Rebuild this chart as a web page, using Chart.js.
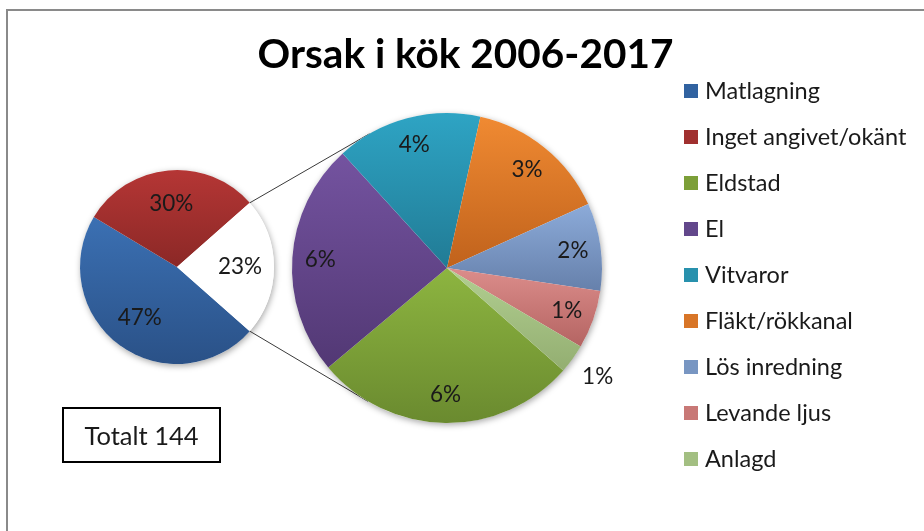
<!DOCTYPE html>
<html>
<head>
<meta charset="utf-8">
<script src="https://cdn.jsdelivr.net/npm/chart.js@4.4.1/dist/chart.umd.min.js"></script>
<style>
  html, body { margin: 0; padding: 0; background: #fff; }
  #wrap { position: relative; width: 924px; height: 531px; overflow: hidden; font-family: Lato, sans-serif; color: #1a1a1a; }
  #frame { position: absolute; left: 6px; top: 9px; right: -10px; bottom: -10px; border-left: 2px solid #8a8a8a; border-top: 2px solid #8a8a8a; }
  canvas { position: absolute; left: 0; top: 0; }
  #title { position: absolute; left: 0; width: 931px; top: 29px; line-height: 48px; text-align: center; font-weight: bold; font-size: 40.5px; color: #000; }
  #legend { position: absolute; left: 684px; top: 67px; list-style: none; margin: 0; padding: 0; font-size: 23.5px; }
  #legend li { height: 46px; line-height: 46px; white-space: nowrap; }
  #legend i { display: inline-block; width: 14px; height: 14px; margin-right: 7px; vertical-align: middle; position: relative; top: -2px; }
  #total { position: absolute; left: 62px; top: 407px; width: 155px; height: 52px; border: 2px solid #000; text-align: center; line-height: 52px; font-size: 25.5px; }
</style>
</head>
<body>
<div id="wrap">
  <div id="frame"></div>
  <canvas id="pieMain" width="924" height="531"></canvas>
  <canvas id="pieDetail" width="924" height="531"></canvas>
  <div id="title"></div>
  <ul id="legend"></ul>
  <div id="total"></div>
</div>
<script>
// share of all kitchen fires, in percent
const titleText = 'Orsak i kök 2006-2017';
const mainLabels = ['Matlagning', 'Inget angivet/okänt'];
const mainValues = [47.1, 29.9];
const otherLabel = 'Övrigt';
const detailLabels = ['Eldstad', 'El', 'Vitvaror', 'Fläkt/rökkanal', 'Lös inredning', 'Levande ljus', 'Anlagd'];
const detailValues = [6.3, 5.6, 3.5, 3.4, 2.1, 1.4, 0.7];
const totalCount = 144;

// colours: top / bottom of each slice gradient, plus a flat one for the legend
const mainTop = ['#3b70b3', '#b53635', '#ffffff'];
const mainBottom = ['#2a5187', '#8b2826', '#ffffff'];
const mainFlat = ['#3162a0', '#a0302f', '#ffffff'];
const detailTop = ['#8db540', '#7453a0', '#2ea4c4', '#f08a32', '#8cabd9', '#dc8d8b', '#b2cf91'];
const detailBottom = ['#6a8a2f', '#523874', '#217b95', '#c0621c', '#6680ab', '#b46462', '#93ae71'];
const detailFlat = ['#7c9f38', '#62478b', '#2891ad', '#d87527', '#7896c2', '#c87876', '#a3bf82'];

const otherValue = detailValues.reduce((a, b) => a + b, 0);

document.getElementById('title').textContent = titleText;
document.getElementById('total').textContent = 'Totalt ' + totalCount;

const legend = document.getElementById('legend');
mainLabels.concat(detailLabels).forEach((name, i) => {
  const li = document.createElement('li');
  const box = document.createElement('i');
  box.style.background = i < mainLabels.length ? mainFlat[i] : detailFlat[i - mainLabels.length];
  li.appendChild(box);
  li.appendChild(document.createTextNode(name));
  legend.appendChild(li);
});

// percent labels, inside the slice or just outside for thin ones
const sliceLabels = {
  id: 'sliceLabels',
  afterDatasetsDraw(chart, args, opts) {
    const ctx = chart.ctx;
    const values = chart.data.datasets[0].data;
    chart.getDatasetMeta(0).data.forEach((arc, i) => {
      const mid = (arc.startAngle + arc.endAngle) / 2;
      const thin = arc.endAngle - arc.startAngle < 0.25;
      const r = arc.outerRadius * (thin ? opts.outside : opts.inside);
      ctx.save();
      ctx.font = '22.5px Lato';
      ctx.fillStyle = '#1a1a1a';
      ctx.textAlign = 'center';
      ctx.textBaseline = 'middle';
      ctx.fillText(Math.round(values[i]) + '%', arc.x + Math.cos(mid) * r, arc.y + Math.sin(mid) * r);
      ctx.restore();
    });
  }
};

// soft drop shadow under the whole pie
const pieShadow = {
  id: 'pieShadow',
  beforeDatasetsDraw(chart) {
    const a = chart.getDatasetMeta(0).data[0];
    const ctx = chart.ctx;
    ctx.save();
    ctx.shadowColor = 'rgba(0,0,0,0.35)';
    ctx.shadowBlur = 6;
    ctx.shadowOffsetX = 1;
    ctx.shadowOffsetY = 2;
    ctx.fillStyle = '#fff';
    ctx.beginPath();
    ctx.arc(a.x, a.y, a.outerRadius, 0, Math.PI * 2);
    ctx.fill();
    ctx.restore();
  }
};

// lines from the "Övrigt" slice, tangent to the detail pie
const connectors = {
  id: 'connectors',
  beforeDatasetsDraw(chart) {
    const src = mainChart.getDatasetMeta(0).data[2];
    const dst = chart.getDatasetMeta(0).data[0];
    const ctx = chart.ctx;
    ctx.save();
    ctx.strokeStyle = '#3a3a3a';
    ctx.lineWidth = 1;
    [src.startAngle, src.endAngle].forEach((ang, k) => {
      const px = src.x + Math.cos(ang) * src.outerRadius;
      const py = src.y + Math.sin(ang) * src.outerRadius;
      const d = Math.hypot(px - dst.x, py - dst.y);
      const base = Math.atan2(py - dst.y, px - dst.x);
      const t = base + (k === 0 ? 1 : -1) * Math.acos(dst.outerRadius / d);
      ctx.beginPath();
      ctx.moveTo(px, py);
      ctx.lineTo(dst.x + Math.cos(t) * dst.outerRadius, dst.y + Math.sin(t) * dst.outerRadius);
      ctx.stroke();
    });
    ctx.restore();
  }
};

function shade(chart, tops, bottoms) {
  const ctx = chart.ctx;
  const arcs = chart.getDatasetMeta(0).data;
  chart.data.datasets[0].backgroundColor = arcs.map((a, i) => {
    const ys = [a.y, a.y + Math.sin(a.startAngle) * a.outerRadius, a.y + Math.sin(a.endAngle) * a.outerRadius];
    for (let k = -3; k <= 4; k++) {
      const t = Math.PI / 2 + k * Math.PI;
      if (t > a.startAngle && t < a.endAngle) ys.push(a.y + Math.sin(t) * a.outerRadius);
    }
    const g = ctx.createLinearGradient(0, Math.min(...ys), 0, Math.max(...ys));
    g.addColorStop(0, tops[i]);
    g.addColorStop(1, bottoms[i]);
    return g;
  });
  chart.update('none');
}

function pieOptions(pad, labelPos) {
  return {
    responsive: false,
    animation: false,
    events: [],
    rotation: 131.4,
    layout: { padding: pad },
    elements: { arc: { borderWidth: 0 } },
    plugins: {
      legend: { display: false },
      tooltip: { enabled: false },
      sliceLabels: labelPos
    }
  };
}

const mainChart = new Chart(document.getElementById('pieMain'), {
  type: 'pie',
  data: {
    labels: mainLabels.concat([otherLabel]),
    datasets: [{ data: mainValues.concat([otherValue]), backgroundColor: mainFlat }]
  },
  options: pieOptions({ left: 80, right: 650, top: 170, bottom: 167 }, { inside: 0.65, outside: 1.2 }),
  plugins: [pieShadow, sliceLabels]
});
shade(mainChart, mainTop, mainBottom);

const detailChart = new Chart(document.getElementById('pieDetail'), {
  type: 'pie',
  data: {
    labels: detailLabels,
    datasets: [{ data: detailValues, backgroundColor: detailFlat }]
  },
  options: pieOptions({ left: 292, right: 322, top: 113, bottom: 108 }, { inside: 0.82, outside: 1.2 }),
  plugins: [connectors, pieShadow, sliceLabels]
});
shade(detailChart, detailTop, detailBottom);
</script>
</body>
</html>
